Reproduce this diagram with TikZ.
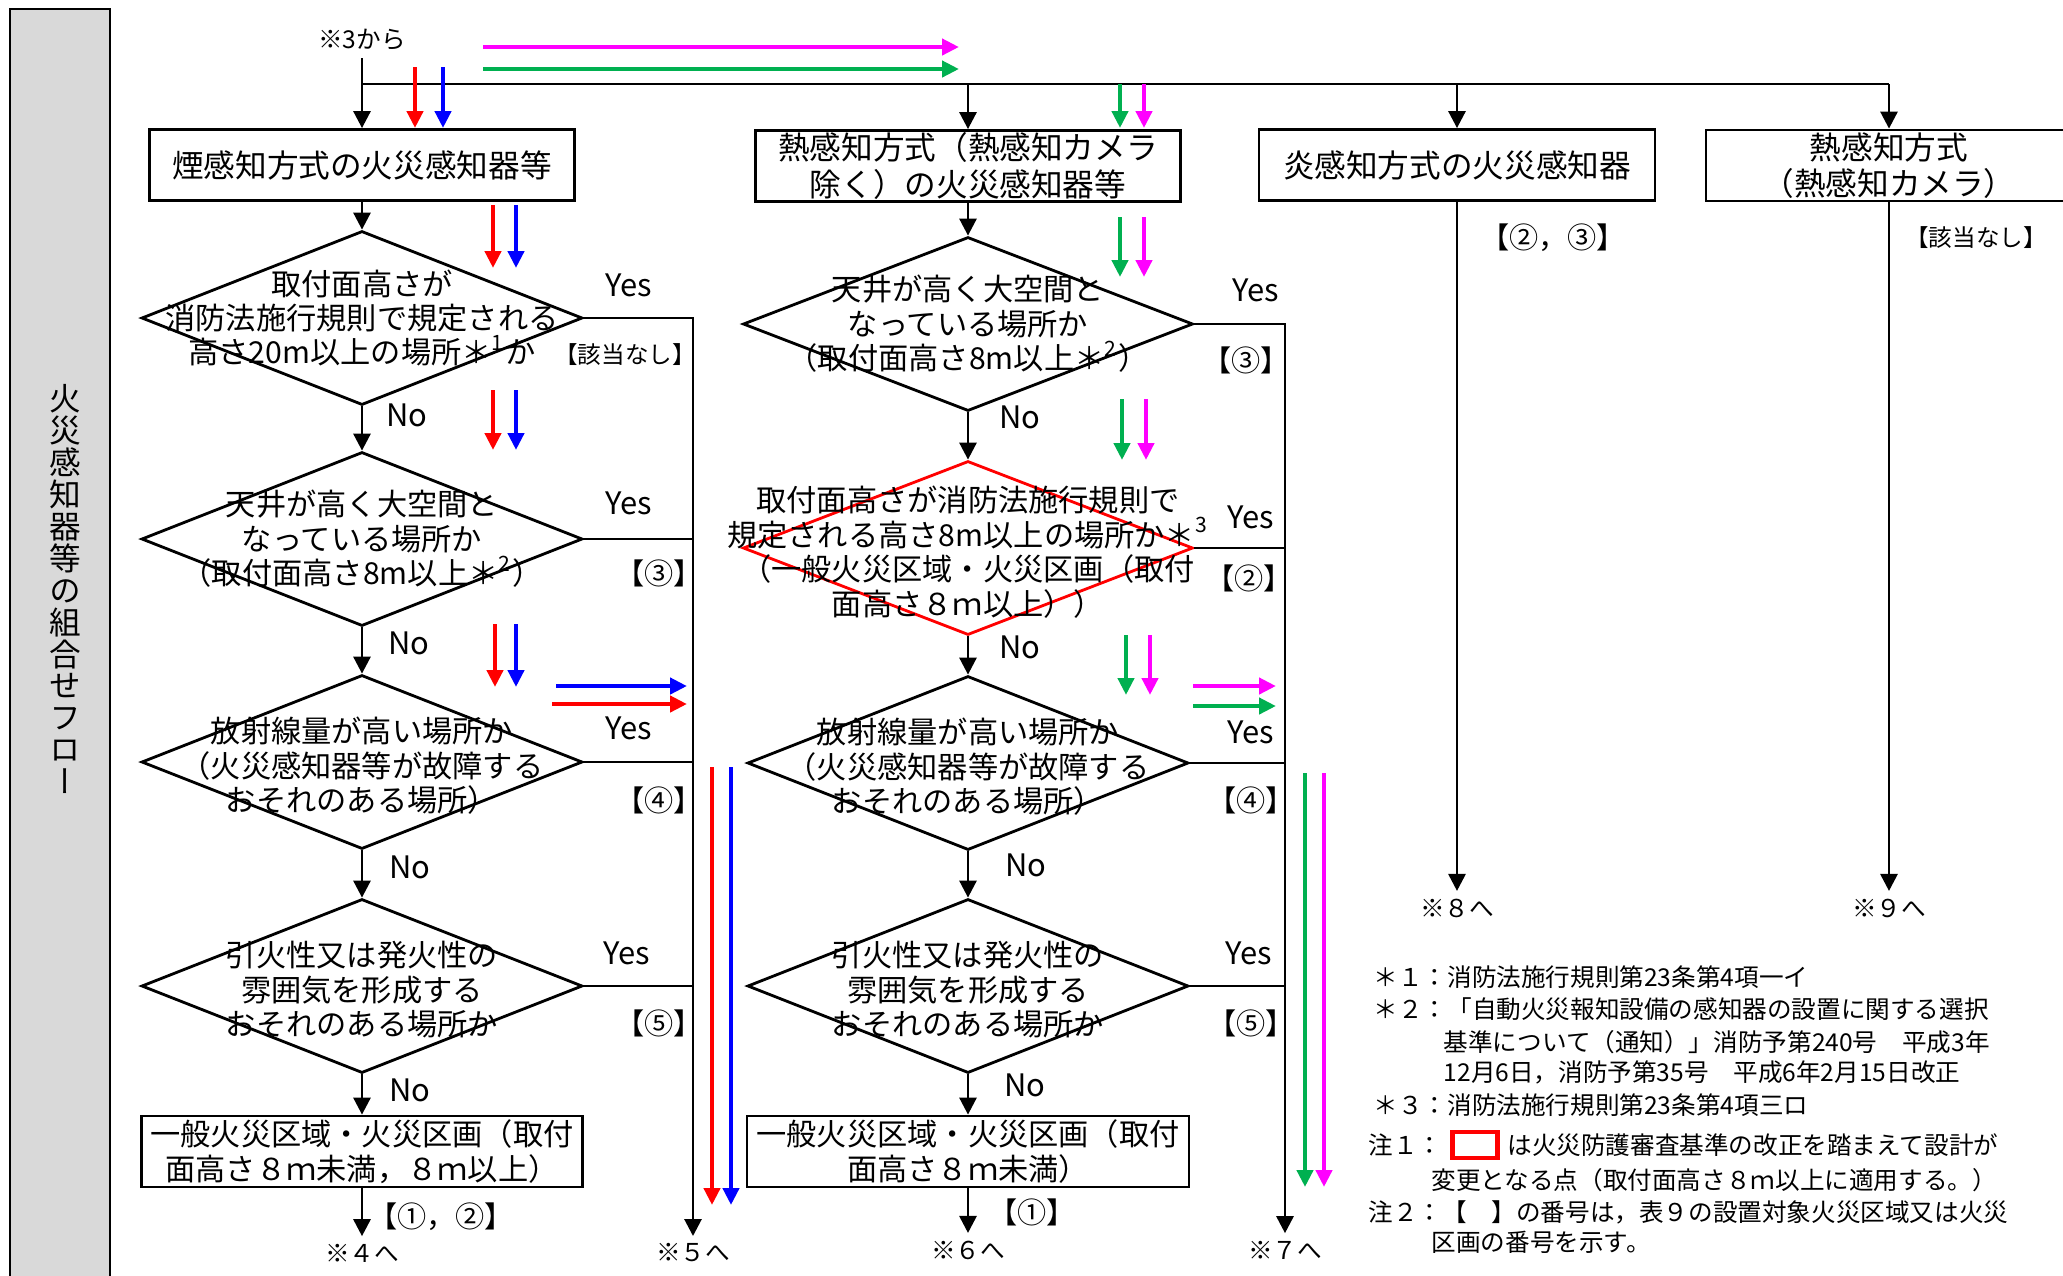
\documentclass[tikz,border=0pt]{standalone}
\usepackage{fontspec}
\setmainfont{Noto Sans CJK JP}
\newfontfamily\vfont[RawFeature=+vert]{Noto Sans CJK JP}
\usetikzlibrary{arrows.meta,shapes.geometric,positioning,calc}
\definecolor{fdRed}{HTML}{FF0000}
\definecolor{fdBlue}{HTML}{0000FF}
\definecolor{fdGreen}{HTML}{00B050}
\definecolor{fdMag}{HTML}{FF00FF}
\definecolor{fdGray}{HTML}{D9D9D9}
\newcommand{\fsBox}{\fontsize{9}{10.4}\selectfont}
\newcommand{\fsMain}{\fontsize{8.6}{9.8}\selectfont}
\newcommand{\fsLbl}{\fontsize{8.8}{10}\selectfont}
\newcommand{\fsBrk}{\fontsize{8.3}{9}\selectfont}
\newcommand{\fsNa}{\fontsize{6.7}{7}\selectfont}
\newcommand{\fsDest}{\fontsize{7}{8}\selectfont}
\newcommand{\fsNote}{\fontsize{7}{9}\selectfont}
\tikzset{
  blk/.style={draw, line width=0.8pt, minimum height=0.71cm, inner sep=0pt, align=center, font=\fsBox},
  dec/.style={diamond, draw, line width=0.8pt, minimum width=4.41cm, minimum height=1.74cm, inner sep=0pt},
  dtxt/.style={align=center, inner sep=0pt, font=\fsMain},
  lbl/.style={inner sep=1pt, font=\fsLbl},
  brkl/.style={inner sep=1pt, font=\fsBrk},
  dest/.style={inner sep=2pt, font=\fsDest},
  note/.style={anchor=west, inner sep=0pt, font=\fsNote},
  arr/.style={-{Triangle[length=0.17cm,width=0.17cm]}, line width=0.8pt},
  carr/.style={-{Triangle[length=0.17cm,width=0.16cm]}, line width=1.3pt},
}
\begin{document}
\begin{tikzpicture}
\useasboundingbox (0,0) rectangle (20.63,-12.75);
% side bar
\draw[line width=0.8pt, fill=fdGray] (0.10,-0.09) rectangle (1.10,-12.85);
\node[align=center, inner sep=0pt, font=\vfont\fontsize{9}{9.1}\selectfont] (sideT) at (0.65,-5.89)
  {火\\災\\感\\知\\器\\等\\の\\組\\合\\せ\\フ\\ロ\\ー};

% top entry and bus
\node[dest] (from3) at (3.62,-0.40) {※3から};
\coordinate (bus) at (3.62,-0.84);

% smoke column
\node[blk, minimum width=4.25cm] (sm) at (3.62,-1.65) {煙感知方式の火災感知器等};
\node[dec] (d1) at (3.62,-3.18) {};
\node[dtxt] (d1t) at (d1) {取付面高さが\\消防法施行規則で規定される\\高さ20m以上の場所＊\textsuperscript{1}か};
\node[dec] (d2) at (3.62,-5.39) {};
\node[dtxt] (d2t) at (d2) {天井が高く大空間と\\なっている場所か\\（取付面高さ8m以上＊\textsuperscript{2}）};
\node[dec] (d3) at (3.62,-7.62) {};
\node[dtxt] (d3t) at ($(d3)+(0,-0.04)$) {放射線量が高い場所か\\（火災感知器等が故障する\\おそれのある場所）};
\node[dec] (d4) at (3.62,-9.86) {};
\node[dtxt] (d4t) at ($(d4)+(0,-0.04)$) {引火性又は発火性の\\雰囲気を形成する\\おそれのある場所か};
\node[blk, minimum width=4.41cm, font=\fsMain] (bx5) at (3.62,-11.515) {一般火災区域・火災区画（取付\\面高さ８ｍ未満，８ｍ以上）};

% heat column
\node[blk, minimum width=4.25cm] (ht) at (9.68,-1.66) {熱感知方式（熱感知カメラ\\除く）の火災感知器等};
\node[dec, minimum width=4.50cm] (e1) at (9.68,-3.24) {};
\node[dtxt] (e1t) at (e1) {天井が高く大空間と\\なっている場所か\\（取付面高さ8m以上＊\textsuperscript{2}）};
\node[dec, minimum width=4.50cm, draw=fdRed] (e2) at (9.68,-5.48) {};
\node[dtxt] (e2t) at ($(e2)+(0,-0.04)$) {取付面高さが消防法施行規則で\\規定される高さ8m以上の場所か＊\textsuperscript{3}\\（一般火災区域・火災区画（取付\\面高さ８ｍ以上））};
\node[dec] (e3) at (9.68,-7.63) {};
\node[dtxt] (e3t) at ($(e3)+(0,-0.04)$) {放射線量が高い場所か\\（火災感知器等が故障する\\おそれのある場所）};
\node[dec] (e4) at (9.68,-9.86) {};
\node[dtxt] (e4t) at ($(e4)+(0,-0.04)$) {引火性又は発火性の\\雰囲気を形成する\\おそれのある場所か};
\node[blk, minimum width=4.42cm, font=\fsMain] (bx6) at (9.68,-11.515) {一般火災区域・火災区画（取付\\面高さ８ｍ未満）};

% flame and camera
\node[blk, minimum width=3.96cm] (fl) at (14.57,-1.65) {炎感知方式の火災感知器};
\node[blk, minimum width=3.66cm] (cam) at (18.89,-1.655) {熱感知方式\\（熱感知カメラ）};

% destinations
\node[dest] (to4) at (3.62,-12.53) {※４へ};
\node[dest] (to5) at (6.93,-12.53) {※５へ};
\node[dest] (to6) at (9.68,-12.50) {※６へ};
\node[dest] (to7) at (12.85,-12.50) {※７へ};
\node[dest] (to8) at (14.57,-9.08) {※８へ};
\node[dest] (to9) at (18.89,-9.08) {※９へ};

% connectors
\draw[line width=0.8pt] (bus) -- (bus -| cam.north);
\draw[arr] (from3.south) -- (sm.north);
\draw[arr] (bus -| ht.north) -- (ht.north);
\draw[arr] (bus -| fl.north) -- (fl.north);
\draw[arr] (bus -| cam.north) -- (cam.north);
\draw[arr] (sm.south) -- (d1.north);
\draw[arr] (d1.south) -- (d2.north);
\draw[arr] (d2.south) -- (d3.north);
\draw[arr] (d3.south) -- (d4.north);
\draw[arr] (d4.south) -- (bx5.north);
\draw[arr] (bx5.south) -- (to4.north);
\draw[arr] (ht.south) -- (e1.north);
\draw[arr] (e1.south) -- (e2.north);
\draw[arr] (e2.south) -- (e3.north);
\draw[arr] (e3.south) -- (e4.north);
\draw[arr] (e4.south) -- (bx6.north);
\draw[arr] (bx6.south) -- (to6.north);
\draw[arr] (d1.east) -- (d1.east -| to5) -- (to5.north);
\draw[arr] (e1.east) -- (e1.east -| to7) -- (to7.north);
\foreach \n in {d2,d3,d4} \draw[line width=0.8pt] (\n.east) -- (\n.east -| to5);
\foreach \n in {e2,e3,e4} \draw[line width=0.8pt] (\n.east) -- (\n.east -| to7);
\draw[arr] (fl.south) -- (to8.north);
\draw[arr] (cam.south) -- (to9.north);

% Yes / No and bracket labels
\node[lbl] (yA1) at (6.29,-2.85) {Yes};
\node[lbl] (yA2) at (6.29,-5.03) {Yes};
\node[lbl] (yA3) at (6.29,-7.28) {Yes};
\node[lbl] (yA4) at (6.27,-9.53) {Yes};
\node[lbl] (yB1) at (12.56,-2.90) {Yes};
\node[lbl] (yB2) at (12.51,-5.17) {Yes};
\node[lbl] (yB3) at (12.51,-7.32) {Yes};
\node[lbl] (yB4) at (12.49,-9.53) {Yes};
\node[lbl] (nA1) at (4.07,-4.15) {No};
\node[lbl] (nA2) at (4.09,-6.43) {No};
\node[lbl] (nA3) at (4.10,-8.67) {No};
\node[lbl] (nA4) at (4.10,-10.90) {No};
\node[lbl] (nB1) at (10.20,-4.17) {No};
\node[lbl] (nB2) at (10.20,-6.47) {No};
\node[lbl] (nB3) at (10.26,-8.65) {No};
\node[lbl] (nB4) at (10.25,-10.85) {No};
\node[brkl, font=\fsNa] (kA1) at (6.25,-3.55) {【該当なし】};
\node[brkl] (kA2) at (6.59,-5.73) {【③】};
\node[brkl] (kA3) at (6.59,-8.00) {【④】};
\node[brkl] (kA4) at (6.59,-10.23) {【⑤】};
\node[brkl] (kB1) at (12.46,-3.60) {【③】};
\node[brkl] (kB2) at (12.49,-5.78) {【②】};
\node[brkl] (kB3) at (12.51,-8.00) {【④】};
\node[brkl] (kB4) at (12.51,-10.23) {【⑤】};
\node[brkl] (kA5) at (4.41,-12.17) {【①，②】};
\node[brkl] (kB5) at (10.32,-12.12) {【①】};
\node[brkl] (kC1) at (15.53,-2.38) {【②，③】};
\node[brkl, font=\fsNa] (kD1) at (19.76,-2.38) {【該当なし】};

% colour marks
\foreach \x/\ya/\yb in {4.15/0.67/1.28, 4.93/2.05/2.68, 4.93/3.90/4.50, 4.95/6.24/6.87, 7.12/7.67/12.05}
  \draw[carr, fdRed] (\x,-\ya) -- (\x,-\yb);
\foreach \x/\ya/\yb in {4.43/0.67/1.28, 5.16/2.05/2.68, 5.16/3.90/4.50, 5.16/6.24/6.87, 7.31/7.67/12.05}
  \draw[carr, fdBlue] (\x,-\ya) -- (\x,-\yb);
\foreach \x/\ya/\yb in {11.20/0.84/1.28, 11.20/2.17/2.77, 11.22/3.99/4.60, 11.26/6.35/6.95, 13.05/7.73/11.87}
  \draw[carr, fdGreen] (\x,-\ya) -- (\x,-\yb);
\foreach \x/\ya/\yb in {11.44/0.84/1.28, 11.44/2.17/2.77, 11.46/3.99/4.60, 11.50/6.35/6.95, 13.24/7.73/11.87}
  \draw[carr, fdMag] (\x,-\ya) -- (\x,-\yb);
\draw[carr, fdMag] (4.83,-0.47) -- (9.59,-0.47);
\draw[carr, fdGreen] (4.83,-0.69) -- (9.59,-0.69);
\draw[carr, fdBlue] (5.56,-6.86) -- (6.87,-6.86);
\draw[carr, fdRed] (5.52,-7.04) -- (6.87,-7.04);
\draw[carr, fdMag] (11.93,-6.86) -- (12.76,-6.86);
\draw[carr, fdGreen] (11.93,-7.06) -- (12.76,-7.06);

% notes
\node[note] (n1) at (13.73,-9.77) {＊１：消防法施行規則第23条第4項一イ};
\node[note] (n2) at (13.73,-10.09) {＊２：「自動火災報知設備の感知器の設置に関する選択};
\node[note] (n2b) at (14.43,-10.42) {基準について（通知）」消防予第240号　平成3年};
\node[note] (n2c) at (14.43,-10.72) {12月6日，消防予第35号　平成6年2月15日改正};
\node[note] (n3) at (13.73,-11.05) {＊３：消防法施行規則第23条第4項三ロ};
\node[note] (c1) at (13.68,-11.45) {注１：};
\node[draw=fdRed, line width=1.3pt, minimum width=0.45cm, minimum height=0.26cm, inner sep=0pt, right=0.07cm of c1] (rbox) {};
\node[note, right=0.07cm of rbox] (c1t) {は火災防護審査基準の改正を踏まえて設計が};
\node[note] (c1b) at (14.31,-11.80) {変更となる点（取付面高さ８ｍ以上に適用する。）};
\node[note] (c2) at (13.68,-12.12) {注２：【\hspace{1em}】の番号は，表９の設置対象火災区域又は火災};
\node[note] (c2b) at (14.31,-12.42) {区画の番号を示す。};
\end{tikzpicture}
\end{document}
